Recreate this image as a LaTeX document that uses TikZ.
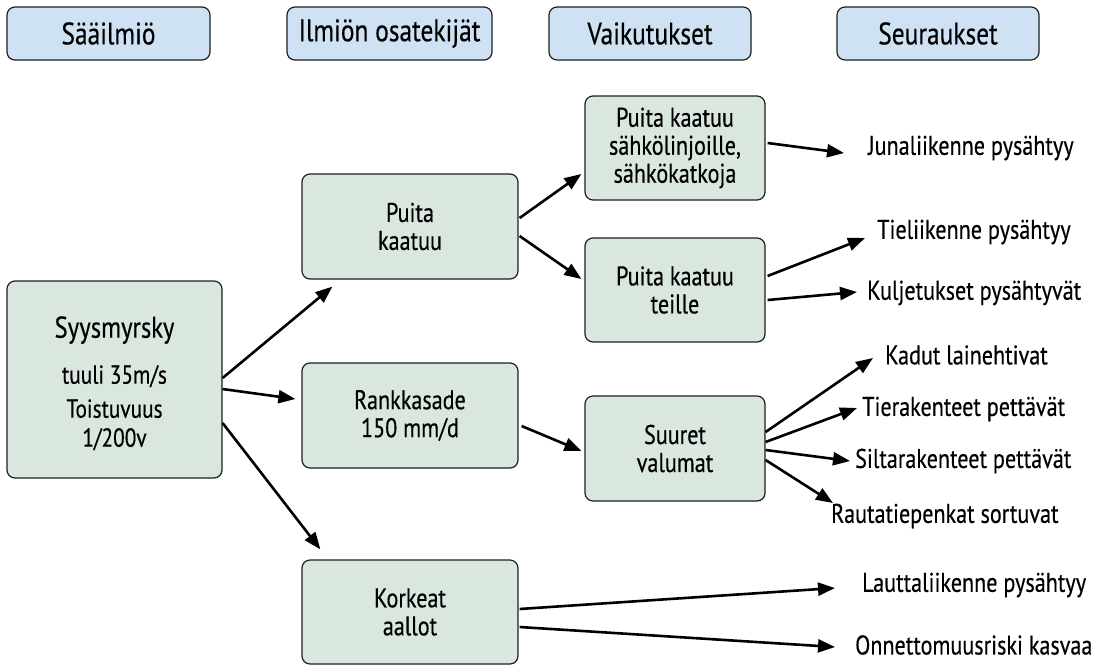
\documentclass[tikz,border=0pt]{standalone}
\usepackage{fontspec}
\setmainfont[FakeStretch=0.82,FakeBold=0.4]{PT Sans}
\usetikzlibrary{arrows.meta,calc}
\definecolor{headfill}{HTML}{CFE2F3}
\definecolor{boxfill}{HTML}{DAE7DF}
\definecolor{edge}{HTML}{1E1E1E}
\tikzset{
  headbox/.style={draw=edge, fill=headfill, line width=1.2pt, rounded corners=8pt,
    minimum width=203pt, minimum height=53pt, inner sep=0pt,
    font=\fontsize{31}{33}\selectfont},
  factorbox/.style={draw=edge, fill=boxfill, line width=1.2pt, rounded corners=8pt,
    inner sep=0pt, align=center, font=\fontsize{27}{28}\selectfont},
  result/.style={inner sep=0pt, anchor=west, font=\fontsize{27}{28}\selectfont},
  arr/.style={line width=2.6pt, -{Triangle[length=17pt,width=13pt]}}
}
\begin{document}
\begin{tikzpicture}[x=1pt,y=-1pt]
\useasboundingbox (0,0) rectangle (1098,665);

% column headers
\node[headbox] (h1) at (108.5,33.5) {Sääilmiö};
\node[headbox, minimum width=205pt] (h2) at (389.5,33.5) {Ilmiön osatekijät};
\node[headbox, minimum width=202pt] (h3) at (650,33.5) {Vaikutukset};
\node[headbox, minimum width=202pt] (h4) at (938,33.5) {Seuraukset};

% weather event
\node[factorbox, minimum width=215pt, minimum height=197pt,
      font=\fontsize{26}{28}\selectfont] (syys) at (114.5,379.5)
  {{\fontsize{30}{31}\selectfont\rule{0pt}{29pt}Syysmyrsky}\\[18pt] tuuli 35m/s\\[6pt] Toistuvuus\\[1pt] 1/200v};

% components
\node[factorbox, minimum width=216pt, minimum height=105pt] (puita) at (410,226.5) {Puita\\kaatuu};
\node[factorbox, minimum width=216pt, minimum height=105pt] (rank) at (410,415.5) {Rankkasade\\150 mm/d};
\node[factorbox, minimum width=216pt, minimum height=104pt] (kork) at (410,612) {Korkeat\\aallot};

% effects
\node[factorbox, minimum width=180pt, minimum height=104pt] (sahko) at (675,148) {Puita kaatuu\\sähkölinjoille,\\sähkökatkoja};
\node[factorbox, minimum width=180pt, minimum height=104pt] (teille) at (675,290) {Puita kaatuu\\teille};
\node[factorbox, minimum width=180pt, minimum height=105pt] (suuret) at (675,448.5) {Suuret\\valumat};

% consequences
\node[result] (jun) at (868,148) {Junaliikenne pysähtyy};
\node[result] (tie) at (877,232) {Tieliikenne pysähtyy};
\node[result] (kulj) at (867,293) {Kuljetukset pysähtyvät};
\node[result] (kadut) at (885,355) {Kadut lainehtivat};
\node[result] (tiera) at (862,409) {Tierakenteet pettävät};
\node[result] (silta) at (855,461) {Siltarakenteet pettävät};
\node[result] (rauta) at (831,516) {Rautatiepenkat sortuvat};
\node[result] (lautta) at (862,585) {Lauttaliikenne pysähtyy};
\node[result] (onn) at (855,645) {Onnettomuusriski kasvaa};

% connectors
\draw[arr] ($(syys.east)+(0,-1.5)$) -- ($(puita.south west)+(31,7)$);
\draw[arr] ($(syys.east)+(0,9.5)$) -- ($(rank.west)+(-6,-16.5)$);
\draw[arr] ($(syys.east)+(0,43.5)$) -- ($(kork.north west)+(19,-10)$);
\draw[arr] ($(puita.east)+(1,-8.5)$) -- ($(sahko.west)+(-3,26)$);
\draw[arr] ($(puita.east)+(1,9.5)$) -- ($(teille.west)+(-3,-11)$);
\draw[arr] ($(rank.east)+(3,10.5)$) -- ($(suuret.west)+(-3,2.5)$);
\draw[arr] ($(sahko.east)+(2,-5)$) -- ($(jun.west)+(-24,5)$);
\draw[arr] ($(teille.east)+(2,-14)$) -- ($(tie.west)+(-12,6)$);
\draw[arr] ($(teille.east)+(2,10)$) -- ($(kulj.west)+(-10,-1)$);
\draw[arr] ($(suuret.east)+(0,-16.5)$) -- ($(kadut.west)+(-12,3)$);
\draw[arr] ($(suuret.east)+(0,-6.5)$) -- ($(tiera.west)+(-5,-1)$);
\draw[arr] ($(suuret.east)+(0,1.5)$) -- ($(silta.west)+(-5,0)$);
\draw[arr] ($(suuret.east)+(0,11.5)$) -- ($(rauta.west)+(2,-13)$);
\draw[arr] ($(kork.east)+(1,-3)$) -- ($(lautta.west)+(-27,3)$);
\draw[arr] ($(kork.east)+(1,15)$) -- ($(onn.west)+(-20,2)$);
\end{tikzpicture}
\end{document}
